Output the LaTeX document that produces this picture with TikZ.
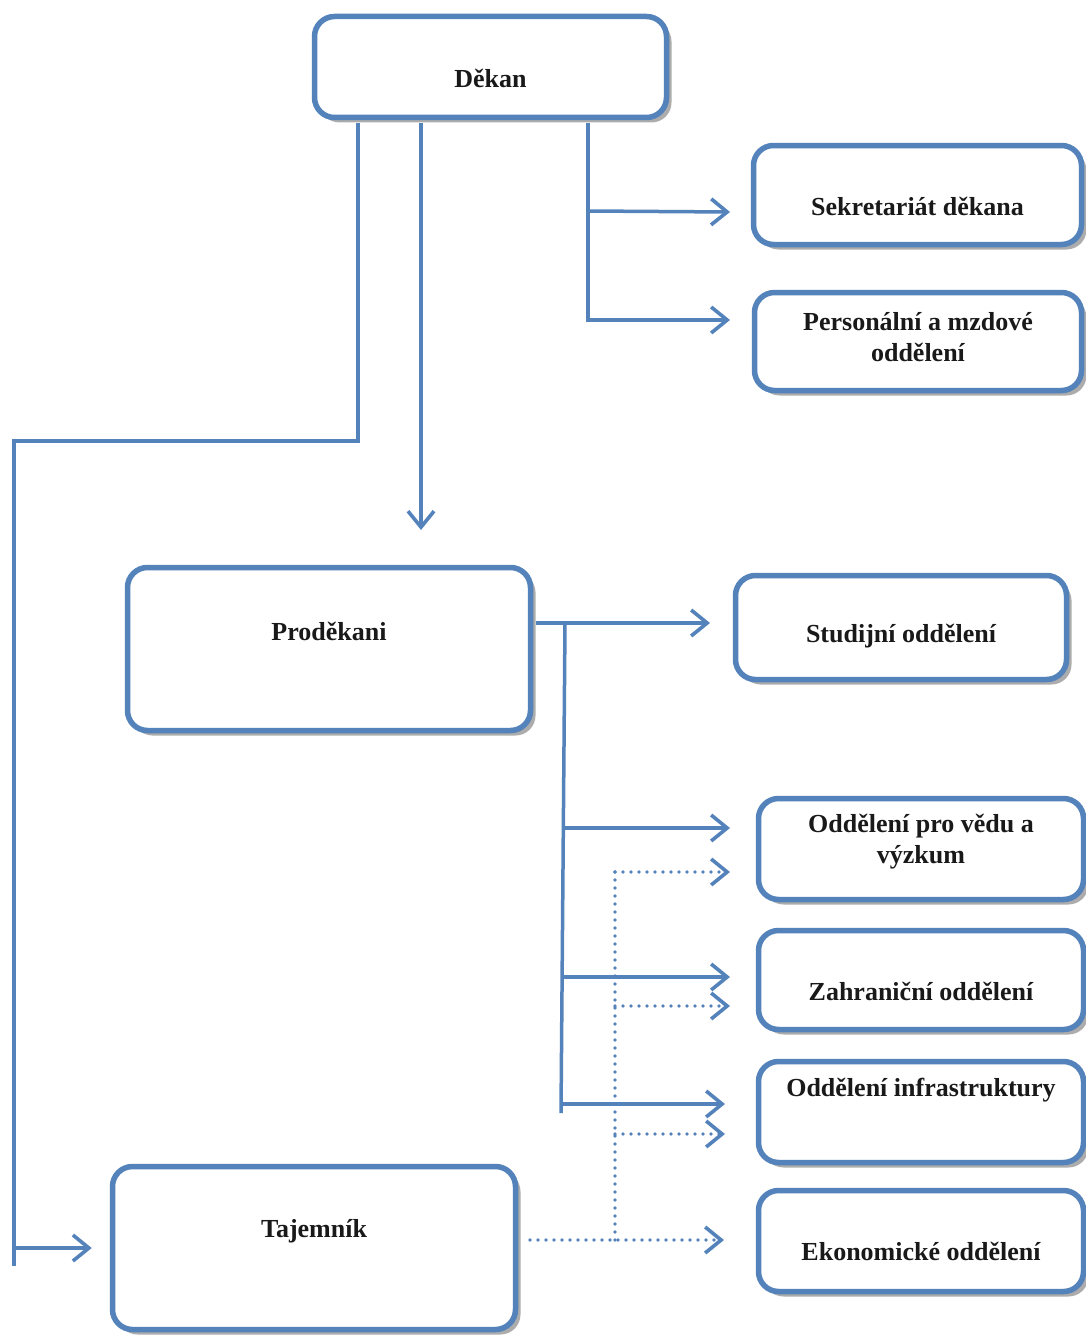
\documentclass[tikz,border=0pt]{standalone}
\usepackage{fontspec}
\setmainfont{Liberation Serif}
\usetikzlibrary{arrows.meta,shadows,calc}
\definecolor{bl}{RGB}{84,130,186}
\begin{document}
\begin{tikzpicture}[x=1pt,y=-1pt,
 box/.style={draw=bl, line width=5.5pt, rounded corners=20pt, fill=white,
   drop shadow={shadow xshift=5pt, shadow yshift=-5pt, fill=gray!65, opacity=1},
   inner sep=0pt},
 txt/.style={font=\fontsize{26}{31}\selectfont\bfseries, align=center, text=black!90},
 con/.style={draw=bl, line width=3.5pt},
 tip/.style={-{Straight Barb[length=16pt,width=26pt,line width=3.6pt]}},
 arr/.style={con, tip},
 dot/.style={draw=bl, line width=3.8pt, dash pattern=on 0pt off 8pt, line cap=round},
 darr/.style={dot, tip},
]
\useasboundingbox (0,0) rectangle (1086,1335);

% boxes
\node[box, minimum width=352pt, minimum height=101pt,
  label={[txt, yshift=-11pt]center:Děkan}] (dekan) at (490.5,67) {};
\node[box, minimum width=328pt, minimum height=99pt,
  label={[txt, yshift=-11pt]center:Sekretariát děkana}] (sekr) at (917.5,195) {};
\node[box, minimum width=327pt, minimum height=98pt,
  label={[txt, yshift=4.5pt]center:Personální a mzdové\\oddělení}] (pers) at (918,341.5) {};
\node[box, minimum width=403pt, minimum height=163pt,
  label={[txt, yshift=18pt]center:Proděkani}] (prod) at (329,649) {};
\node[box, minimum width=331pt, minimum height=104pt,
  label={[txt, yshift=-8.5pt]center:Studijní oddělení}] (stud) at (901,627.5) {};
\node[box, minimum width=325pt, minimum height=101pt,
  label={[txt, yshift=7pt]center:Oddělení pro vědu a\\výzkum}] (veda) at (921,849) {};
\node[box, minimum width=325pt, minimum height=99pt,
  label={[txt, yshift=-11pt]center:Zahraniční oddělení}] (zahr) at (921,980) {};
\node[box, minimum width=325pt, minimum height=101pt,
  label={[txt, yshift=22pt]center:Oddělení infrastruktury}] (infra) at (921,1112) {};
\node[box, minimum width=403pt, minimum height=163pt,
  label={[txt, yshift=17pt]center:Tajemník}] (taj) at (314,1248) {};
\node[box, minimum width=325pt, minimum height=101pt,
  label={[txt, yshift=-10pt]center:Ekonomické oddělení}] (ekon) at (921,1241) {};

% coordinates for connector routing
\coordinate (dkA) at (358,441);
\coordinate (dkB) at (14,441);
\coordinate (dkEnd) at (14,1266);
\coordinate (prIn) at (421,530);
\coordinate (skBr) at (588,211);
\coordinate (skIn) at (730,212);
\coordinate (psIn) at (730,320);
\coordinate (stIn) at (710,623);
\coordinate (trTop) at (565,623);
\coordinate (trBot) at (561,1113);
\coordinate (vdIn) at (730,828);
\coordinate (zhIn) at (730,977);
\coordinate (inIn) at (725,1104);
\coordinate (tjOut) at (530,1240);
\coordinate (ekIn) at (724,1240);
\coordinate (dtTop) at (615,872);
\coordinate (vdDot) at (730,872);
\coordinate (zhDot) at (730,1006);
\coordinate (inDot) at (725,1134);

% Dekan -> Tajemnik
\draw[con] ([yshift=-2.5pt]dekan.south -| dkA) -- (dkA) -- (dkB) -- (dkEnd);
\draw[arr] (dkB |- taj.west) -- ([xshift=-18pt]taj.west);
% Dekan -> Prodekani
\draw[arr] ([yshift=-2.5pt]dekan.south -| prIn) -- (prIn);
% Dekan -> Sekretariat, Personalni
\draw[arr] ([yshift=-2.5pt]dekan.south -| skBr) |- (psIn);
\draw[arr] (skBr) -- (skIn);
% Prodekani -> departments
\draw[arr] ([xshift=2.5pt]prod.east |- stIn) -- (stIn);
\draw[con] (trTop) -- (trBot);
\draw[arr] (564,828) -- (vdIn);
\draw[arr] (563,977) -- (zhIn);
\draw[arr] (561.5,1104) -- (inIn);
% Tajemnik -> departments (dotted)
\draw[darr] (tjOut) -- (ekIn);
\draw[dot] (dtTop |- tjOut) -- (dtTop);
\draw[darr] (dtTop) -- (vdDot);
\draw[darr] (dtTop |- zhDot) -- (zhDot);
\draw[darr] (dtTop |- inDot) -- (inDot);
\end{tikzpicture}
\end{document}
